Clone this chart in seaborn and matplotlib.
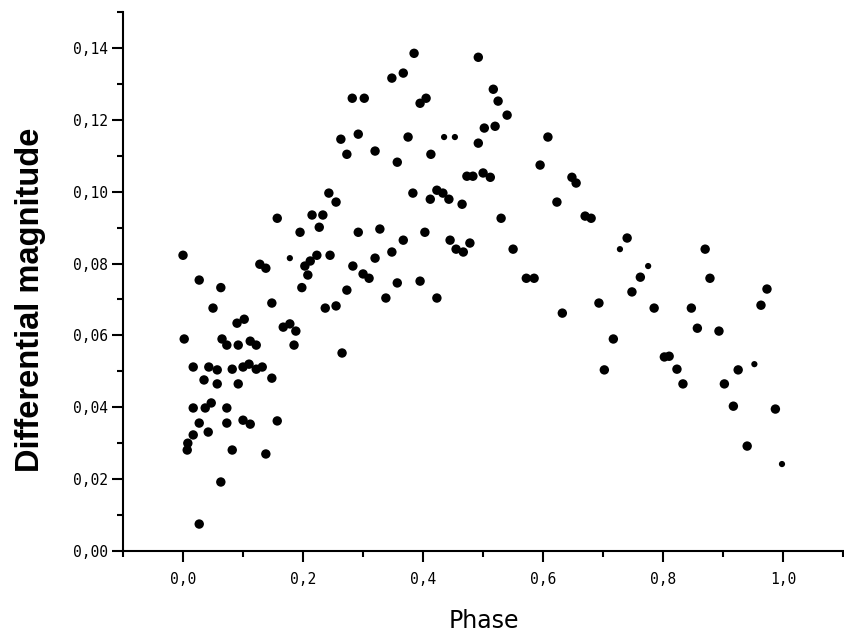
"""
Differential magnitude vs phase, light curve scatter.
"""

import numpy as np
import pandas as pd
import seaborn as sns
import matplotlib.pyplot as plt
from matplotlib.ticker import MultipleLocator, FuncFormatter

# Data
phase = [
    0.000, 0.027, 0.063, 0.198, 0.273, 0.310, 0.050, 0.148, 0.237, 0.255,
    0.090, 0.102, 0.167, 0.178, 0.188, 0.002, 0.065, 0.073, 0.092, 0.112,
    0.122, 0.185, 0.265, 0.017, 0.043, 0.057, 0.082, 0.100, 0.110, 0.122,
    0.132, 0.148, 0.035, 0.057, 0.092, 0.017, 0.037, 0.047, 0.073, 0.027,
    0.042, 0.073, 0.100, 0.112, 0.157, 0.017, 0.008, 0.007, 0.082, 0.138,
    0.063, 0.027, 0.282, 0.302, 0.292, 0.263, 0.273, 0.320, 0.243, 0.255,
    0.157, 0.215, 0.233, 0.227, 0.195, 0.292, 0.328, 0.128, 0.138, 0.203,
    0.212, 0.223, 0.208, 0.245, 0.283, 0.300, 0.320, 0.348, 0.357, 0.395,
    0.338, 0.423, 0.572, 0.585, 0.632, 0.385, 0.492, 0.348, 0.367, 0.517,
    0.525, 0.540, 0.395, 0.405, 0.502, 0.520, 0.375, 0.492, 0.608, 0.357,
    0.413, 0.595, 0.473, 0.483, 0.500, 0.512, 0.648, 0.655, 0.383, 0.412,
    0.423, 0.433, 0.443, 0.465, 0.623, 0.670, 0.680, 0.530, 0.403, 0.367,
    0.445, 0.455, 0.467, 0.478, 0.550, 0.740, 0.762, 0.748, 0.785, 0.870,
    0.878, 0.973, 0.963, 0.693, 0.847, 0.857, 0.893, 0.717, 0.702, 0.802,
    0.810, 0.823, 0.833, 0.925, 0.902, 0.917, 0.987, 0.940,
]
mag = [
    0.0823, 0.0754, 0.0733, 0.0733, 0.0726, 0.0759, 0.0676, 0.0690, 0.0676, 0.0682,
    0.0634, 0.0645, 0.0623, 0.0632, 0.0612, 0.0590, 0.0590, 0.0573, 0.0573, 0.0584,
    0.0573, 0.0573, 0.0551, 0.0512, 0.0512, 0.0504, 0.0506, 0.0512, 0.0520, 0.0506,
    0.0512, 0.0481, 0.0476, 0.0465, 0.0465, 0.0398, 0.0398, 0.0412, 0.0398, 0.0356,
    0.0331, 0.0356, 0.0364, 0.0353, 0.0362, 0.0323, 0.0300, 0.0281, 0.0281, 0.0270,
    0.0192, 0.0075, 0.1260, 0.1260, 0.1160, 0.1146, 0.1104, 0.1113, 0.0996, 0.0971,
    0.0926, 0.0935, 0.0935, 0.0901, 0.0887, 0.0887, 0.0896, 0.0798, 0.0787, 0.0793,
    0.0807, 0.0823, 0.0768, 0.0823, 0.0793, 0.0771, 0.0815, 0.0832, 0.0746, 0.0751,
    0.0704, 0.0704, 0.0759, 0.0759, 0.0662, 0.1385, 0.1374, 0.1316, 0.1330, 0.1285,
    0.1252, 0.1213, 0.1246, 0.1260, 0.1177, 0.1182, 0.1152, 0.1135, 0.1152, 0.1082,
    0.1104, 0.1074, 0.1043, 0.1043, 0.1052, 0.1040, 0.1040, 0.1024, 0.0996, 0.0979,
    0.1004, 0.0996, 0.0979, 0.0965, 0.0971, 0.0932, 0.0926, 0.0926, 0.0887, 0.0865,
    0.0865, 0.0840, 0.0832, 0.0857, 0.0840, 0.0871, 0.0762, 0.0721, 0.0676, 0.0840,
    0.0759, 0.0729, 0.0684, 0.0690, 0.0676, 0.0620, 0.0612, 0.0590, 0.0504, 0.0540,
    0.0542, 0.0506, 0.0465, 0.0504, 0.0465, 0.0403, 0.0395, 0.0292,
]

# a few points are drawn smaller in the original
phase_small = [0.178, 0.435, 0.453, 0.728, 0.775, 0.952, 0.998]
mag_small = [0.0815, 0.1152, 0.1152, 0.0840, 0.0793, 0.0520, 0.0242]

df = pd.DataFrame({'Phase': phase, 'mag': mag})
df_small = pd.DataFrame({'Phase': phase_small, 'mag': mag_small})

sns.set_style('ticks')
plt.rcParams['font.family'] = ['DejaVu Sans']
plt.rcParams['text.color'] = 'black'
plt.rcParams['axes.labelcolor'] = 'black'
plt.rcParams['xtick.color'] = 'black'
plt.rcParams['ytick.color'] = 'black'

fig = plt.figure(figsize=(8.45, 6.39), dpi=100)
ax = fig.add_axes([123 / 845, 88 / 639, 722 / 845, 539 / 639])

sns.scatterplot(data=df, x='Phase', y='mag', color='black', s=46,
                edgecolor='none', linewidth=0, ax=ax)
sns.scatterplot(data=df_small, x='Phase', y='mag', color='black', s=20,
                edgecolor='none', linewidth=0, ax=ax)

ax.set_xlim(-0.1, 1.103)
ax.set_ylim(0, 0.15)

ax.xaxis.set_major_locator(MultipleLocator(0.2))
ax.xaxis.set_minor_locator(MultipleLocator(0.1))
ax.yaxis.set_major_locator(MultipleLocator(0.02))
ax.yaxis.set_minor_locator(MultipleLocator(0.01))
ax.xaxis.set_major_formatter(FuncFormatter(lambda v, p: f'{v:.1f}'.replace('.', ',')))
ax.yaxis.set_major_formatter(FuncFormatter(lambda v, p: f'{v:.2f}'.replace('.', ',')))

sns.despine(ax=ax)
for side in ['left', 'bottom']:
    ax.spines[side].set_linewidth(1.5)
    ax.spines[side].set_color('black')

ax.tick_params(which='major', length=8, width=1.5, color='black')
ax.tick_params(which='minor', length=4.5, width=1.5, color='black')
ax.tick_params(axis='y', which='major', pad=3)
ax.tick_params(axis='x', which='major', pad=7)
for lab in ax.get_xticklabels() + ax.get_yticklabels():
    lab.set_fontfamily('DejaVu Sans Mono')
    lab.set_fontsize(10.5)
    lab.set_color('black')

ax.set_xlabel('Phase', fontsize=17, family='DejaVu Sans', labelpad=16,
              color='black')
ax.set_ylabel('Differential magnitude', fontsize=23.5, family='Liberation Sans',
              fontweight='bold', labelpad=19, color='black')
ax.yaxis.label.set_y(0.466)

fig.savefig('out.png', dpi=100)
